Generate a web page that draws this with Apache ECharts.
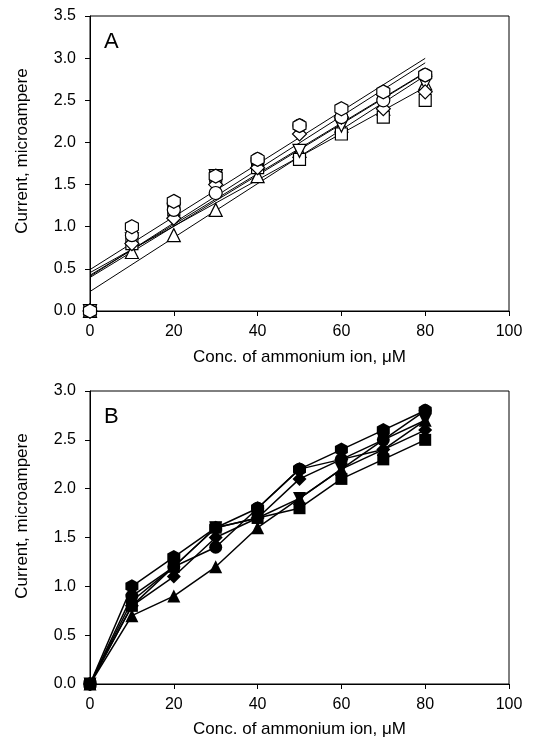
<!DOCTYPE html>
<html>
<head>
<meta charset="utf-8">
<script src="https://cdn.jsdelivr.net/npm/echarts@6/dist/echarts.min.js"></script>
<style>
  html, body { margin: 0; padding: 0; background: #fff; }
  #chart { width: 537px; height: 748px; }
</style>
</head>
<body>
<div id="chart"></div>
<script>
  // concentrations (uM) and current (microampere) for six runs
  var conc = [0, 10, 20, 30, 40, 50, 60, 70, 80];
  var hexagonRun = [0, 1.0, 1.3, 1.6, 1.8, 2.2, 2.4, 2.6, 2.8];
  var circleRun = [0, 0.9, 1.2, 1.4, 1.8, 2.2, 2.3, 2.5, 2.8];
  var diamondRun = [0, 0.8, 1.1, 1.5, 1.7, 2.1, 2.3, 2.4, 2.6];
  var invTriangleRun = [0, 0.85, 1.2, 1.6, 1.7, 1.9, 2.2, 2.5, 2.7];
  var squareRun = [0, 0.8, 1.2, 1.6, 1.7, 1.8, 2.1, 2.3, 2.5];
  var triangleRun = [0, 0.7, 0.9, 1.2, 1.6, 1.9, 2.2, 2.4, 2.7];
  var xTicks = [0, 20, 40, 60, 80, 100];
  var yTicksA = [0, 0.5, 1.0, 1.5, 2.0, 2.5, 3.0, 3.5];
  var yTicksB = [0, 0.5, 1.0, 1.5, 2.0, 2.5, 3.0];

  var hexPath = "path://M0,-10L8.66,-5L8.66,5L0,10L-8.66,5L-8.66,-5Z";
  var runs = [
    { data: triangleRun, symbol: "triangle", size: 13, rotate: 0 },
    { data: squareRun, symbol: "rect", size: 12, rotate: 0 },
    { data: invTriangleRun, symbol: "triangle", size: 13, rotate: 180 },
    { data: diamondRun, symbol: "diamond", size: 14, rotate: 0 },
    { data: circleRun, symbol: "circle", size: 13, rotate: 0 },
    { data: hexagonRun, symbol: hexPath, size: [13, 14], rotate: 0 }
  ];

  function pairs(ys) {
    return conc.map(function(x, i) { return [x, ys[i]]; });
  }

  // least squares line through all points, drawn from 0 to 80
  function fitLine(ys) {
    var n = conc.length, mx = 0, my = 0;
    for (var i = 0; i < n; i++) { mx += conc[i] / n; my += ys[i] / n; }
    var sxy = 0, sxx = 0;
    for (var j = 0; j < n; j++) {
      sxy += (conc[j] - mx) * (ys[j] - my);
      sxx += (conc[j] - mx) * (conc[j] - mx);
    }
    var m = sxy / sxx, b = my - m * mx;
    var x0 = conc[0], x1 = conc[n - 1];
    return [[x0, b + m * x0], [x1, b + m * x1]];
  }

  var font = "Liberation Sans, Arial, sans-serif";
  var series = [];

  runs.forEach(function(r) {
    series.push({
      type: "line",
      xAxisIndex: 0,
      yAxisIndex: 0,
      data: fitLine(r.data),
      showSymbol: false,
      silent: true,
      z: 1,
      lineStyle: { color: "#000", width: 1 }
    });
  });
  runs.forEach(function(r) {
    series.push({
      type: "scatter",
      xAxisIndex: 0,
      yAxisIndex: 0,
      data: pairs(r.data),
      symbol: r.symbol,
      symbolSize: r.size,
      symbolRotate: r.rotate,
      clip: false,
      z: 3,
      itemStyle: { color: "#fff", borderColor: "#000", borderWidth: 1.2, opacity: 1 }
    });
  });
  runs.forEach(function(r) {
    series.push({
      type: "line",
      xAxisIndex: 1,
      yAxisIndex: 1,
      data: pairs(r.data),
      symbol: r.symbol,
      symbolSize: r.size,
      symbolRotate: r.rotate,
      showAllSymbol: true,
      clip: false,
      lineStyle: { color: "#000", width: 1.5 },
      itemStyle: { color: "#000", borderColor: "#000", borderWidth: 0, opacity: 1 }
    });
  });

  function xAxis(idx, gap) {
    return {
      type: "value",
      gridIndex: idx,
      min: xTicks[0],
      max: xTicks[xTicks.length - 1],
      interval: xTicks[1] - xTicks[0],
      name: "Conc. of ammonium ion, \u03bcM",
      nameLocation: "middle",
      nameGap: gap,
      nameTextStyle: { color: "#000", fontSize: 17, fontFamily: font },
      axisLine: { lineStyle: { color: "#000", width: 1 } },
      axisTick: { show: true, inside: false, length: 5, lineStyle: { color: "#000" } },
      axisLabel: { color: "#000", fontSize: 16, fontFamily: font, margin: 13 },
      splitLine: { show: false }
    };
  }

  function yAxis(idx, ticks) {
    return {
      type: "value",
      gridIndex: idx,
      min: ticks[0],
      max: ticks[ticks.length - 1],
      interval: ticks[1] - ticks[0],
      axisLine: { show: true, lineStyle: { color: "#000", width: 1 } },
      axisTick: { show: true, inside: false, length: 5, lineStyle: { color: "#000" } },
      axisLabel: {
        color: "#000", fontSize: 16, fontFamily: font, margin: 14,
        formatter: function(v) { return v.toFixed(1); }
      },
      splitLine: { show: false }
    };
  }

  var chart = echarts.init(document.getElementById("chart"));
  chart.setOption({
    animation: false,
    backgroundColor: "#fff",
    grid: [
      { left: 90, top: 16, width: 419, height: 295, show: true, borderColor: "#000", borderWidth: 1 },
      { left: 90, top: 391, width: 419, height: 293, show: true, borderColor: "#000", borderWidth: 1 }
    ],
    xAxis: [xAxis(0, 38), xAxis(1, 37)],
    yAxis: [yAxis(0, yTicksA), yAxis(1, yTicksB)],
    graphic: [
      { type: "text", left: 104, top: 31, style: { text: "A", fontSize: 22, fontFamily: font, fill: "#000" } },
      { type: "text", left: 104, top: 406, style: { text: "B", fontSize: 22, fontFamily: font, fill: "#000" } },
      { type: "text", x: 22, y: 151, rotation: Math.PI / 2,
        style: { text: "Current, microampere", fontSize: 17, fontFamily: font, fill: "#000", align: "center", verticalAlign: "middle" } },
      { type: "text", x: 22, y: 516, rotation: Math.PI / 2,
        style: { text: "Current, microampere", fontSize: 17, fontFamily: font, fill: "#000", align: "center", verticalAlign: "middle" } }
    ],
    series: series
  });
</script>
</body>
</html>
